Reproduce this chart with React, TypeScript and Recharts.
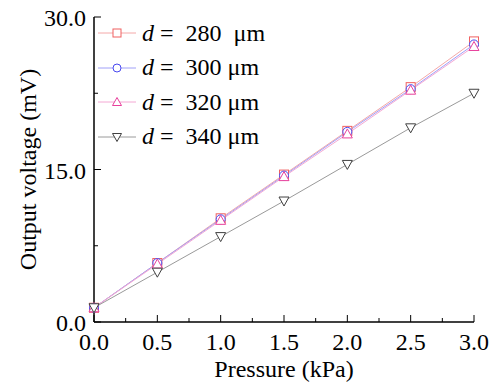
import React from "react";
import { Label, Legend, Line, LineChart, XAxis, YAxis } from "recharts";

const pressure = [0, 0.5, 1.0, 1.5, 2.0, 2.5, 3.0];
const d280 = [1.4, 5.8, 10.2, 14.5, 18.8, 23.1, 27.6];
const d300 = [1.4, 5.8, 10.1, 14.4, 18.7, 22.9, 27.3];
const d320 = [1.4, 5.7, 10.0, 14.3, 18.5, 22.8, 27.1];
const d340 = [1.4, 4.9, 8.4, 11.9, 15.5, 19.1, 22.5];

const xTicks = [0, 0.25, 0.5, 0.75, 1, 1.25, 1.5, 1.75, 2, 2.25, 2.5, 2.75, 3];
const yTicks = [0, 7.5, 15, 22.5, 30];

const data = pressure.map((p, i) => ({
  p,
  d280: d280[i],
  d300: d300[i],
  d320: d320[i],
  d340: d340[i],
}));

type Shape = "square" | "circle" | "up" | "down";

type SeriesDef = {
  key: string;
  label: string;
  marker: string;
  line: string;
  shape: Shape;
};

// the first legend entry has an extra space before the unit, as in the original
const series: SeriesDef[] = [
  { key: "d280", label: "280  \u03bcm", marker: "#f06060", line: "#f4a8a8", shape: "square" },
  { key: "d300", label: "300 \u03bcm", marker: "#4848f0", line: "#a0a0f8", shape: "circle" },
  { key: "d320", label: "320 \u03bcm", marker: "#e8409c", line: "#f4a8d4", shape: "up" },
  { key: "d340", label: "340 \u03bcm", marker: "#404040", line: "#9a9a9a", shape: "down" },
];

const FONT = "'Liberation Serif', 'Times New Roman', serif";

const marker = (shape: Shape, cx: number, cy: number, color: string, r = 4.5) => {
  if (shape === "square")
    return <rect x={cx - r} y={cy - r} width={r * 2} height={r * 2} fill="white" stroke={color} strokeWidth={1} />;
  if (shape === "circle")
    return <circle cx={cx} cy={cy} r={r} fill="white" stroke={color} strokeWidth={1} />;
  if (shape === "up")
    return (
      <polygon
        points={`${cx},${cy - r - 0.5} ${cx - r - 0.5},${cy + r - 0.5} ${cx + r + 0.5},${cy + r - 0.5}`}
        fill="white"
        stroke={color}
        strokeWidth={1}
      />
    );
  return (
    <polygon
      points={`${cx},${cy + r + 0.5} ${cx - r - 0.5},${cy - r + 0.5} ${cx + r + 0.5},${cy - r + 0.5}`}
      fill="white"
      stroke={color}
      strokeWidth={1}
    />
  );
};

const makeDot = (s: SeriesDef) => (props: any) => {
  const { cx, cy, index } = props;
  if (cx == null || cy == null) return <g key={index} />;
  return <g key={index}>{marker(s.shape, cx, cy, s.marker)}</g>;
};

const XTick = (props: any) => {
  const { x, y, payload } = props;
  const major = Math.abs((payload.value * 2) % 1) < 1e-6;
  return (
    <g>
      <line x1={x} y1={y} x2={x} y2={y - (major ? 7 : 4)} stroke="#000" strokeWidth={1} />
      {major && (
        <text x={x} y={y + 28} textAnchor="middle" fontSize={24} fontFamily={FONT} fill="#000">
          {payload.value.toFixed(1)}
        </text>
      )}
    </g>
  );
};

const YTick = (props: any) => {
  const { x, y, payload } = props;
  const major = payload.value % 15 === 0;
  return (
    <g>
      <line x1={x} y1={y} x2={x + (major ? 7 : 4)} y2={y} stroke="#000" strokeWidth={1} />
      {major && (
        <text x={x - 8} y={y + 9} textAnchor="end" fontSize={24} fontFamily={FONT} fill="#000">
          {payload.value.toFixed(1)}
        </text>
      )}
    </g>
  );
};

const LegendBox = () => (
  <div style={{ fontFamily: FONT, fontSize: 24, color: "#000" }}>
    {series.map((s) => (
      <div key={s.key} style={{ display: "flex", alignItems: "center", height: 34.5 }}>
        <svg width={42} height={20} style={{ marginRight: 2 }}>
          <line x1={0} y1={10} x2={38} y2={10} stroke={s.line} strokeWidth={1} />
          {marker(s.shape, 19, 10, s.marker, 4)}
        </svg>
        <span style={{ whiteSpace: "pre" }}>
          <i>d</i>
          {` =  ${s.label}`}
        </span>
      </div>
    ))}
  </div>
);

const YLabel = (props: any) => {
  const { viewBox } = props;
  const cx = viewBox.x + 28;
  const cy = viewBox.y + viewBox.height / 2;
  return (
    <text
      x={cx}
      y={cy}
      transform={`rotate(-90, ${cx}, ${cy})`}
      textAnchor="middle"
      dominantBaseline="central"
      fontSize={24}
      fontFamily={FONT}
      fill="#000"
    >
      Output voltage (mV)
    </text>
  );
};

export default function App() {
  return (
    <div style={{ position: "absolute", left: 0, top: 0 }}>
      <LineChart width={489} height={383} data={data} margin={{ top: 17, right: 15, bottom: 0, left: 0 }}>
        <XAxis
          xAxisId="top"
          orientation="top"
          dataKey="p"
          type="number"
          domain={[0, 3]}
          height={0}
          tick={false}
          tickLine={false}
          stroke="#000"
          strokeWidth={1.5}
        />
        <YAxis
          yAxisId="right"
          orientation="right"
          type="number"
          domain={[0, 30]}
          width={0}
          tick={false}
          tickLine={false}
          stroke="#000"
          strokeWidth={1.5}
        />
        <XAxis
          dataKey="p"
          type="number"
          domain={[0, 3]}
          ticks={xTicks}
          interval={0}
          height={61}
          tickSize={0}
          tickMargin={0}
          tickLine={false}
          tick={<XTick />}
          stroke="#000"
          strokeWidth={1.5}
        >
          <Label
            value="Pressure (kPa)"
            position="insideBottom"
            offset={6}
            style={{ fontSize: 24, fontFamily: FONT, fill: "#000" }}
          />
        </XAxis>
        <YAxis
          type="number"
          domain={[0, 30]}
          ticks={yTicks}
          interval={0}
          width={94}
          tickSize={0}
          tickMargin={0}
          tickLine={false}
          tick={<YTick />}
          stroke="#000"
          strokeWidth={1.5}
        >
          <Label content={<YLabel />} />
        </YAxis>
        <Legend
          layout="vertical"
          verticalAlign="middle"
          align="center"
          content={<LegendBox />}
          wrapperStyle={{ left: 98, top: 16, width: 220, height: 140 }}
        />
        {series.map((s) => (
          <Line
            key={s.key}
            dataKey={s.key}
            type="linear"
            stroke={s.line}
            strokeWidth={1}
            dot={makeDot(s)}
            activeDot={false}
            isAnimationActive={false}
          />
        ))}
      </LineChart>
    </div>
  );
}
